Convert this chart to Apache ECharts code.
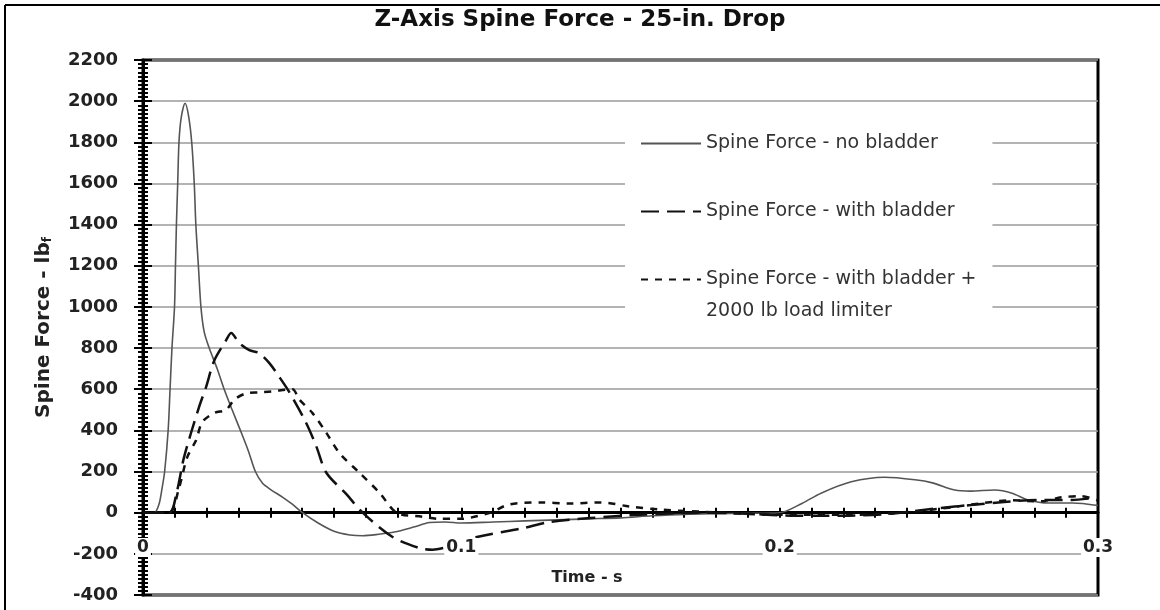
<!DOCTYPE html>
<html lang="en">
<head>
<meta charset="UTF-8">
<title>Z-Axis Spine Force - 25-in. Drop</title>
<script src="https://cdn.jsdelivr.net/npm/echarts@6/dist/echarts.min.js"></script>
<style>
    html, body { margin: 0; padding: 0; background: #fff; }
    #main { width: 1160px; height: 610px; }
</style>
</head>
<body>
<div id="main"></div>
<script type="text/javascript">
    // values (time in s, force in lbf)
    var tNoBladder = [0, 0.0035, 0.005, 0.006, 0.0068, 0.0079, 0.0085, 0.0091, 0.0099, 0.0102, 0.0105,
        0.0109, 0.0113, 0.012, 0.0132, 0.0143, 0.0153, 0.0161, 0.0166, 0.0174, 0.0182, 0.0192, 0.0208,
        0.0233, 0.0255, 0.028, 0.0306, 0.0331, 0.0353, 0.0375, 0.0403, 0.0438, 0.047, 0.0501, 0.055,
        0.060, 0.065, 0.069, 0.074, 0.079, 0.085, 0.090, 0.095, 0.100, 0.110, 0.120, 0.130, 0.140,
        0.150, 0.160, 0.170, 0.180, 0.190, 0.200, 0.207, 0.213, 0.2225, 0.233, 0.2425, 0.248, 0.255,
        0.260, 0.2675, 0.273, 0.278, 0.2845, 0.292, 0.300];
    var fNoBladder = [0, 0, 40, 120, 200, 400, 600, 800, 1000, 1200, 1400,
        1600, 1800, 1920, 1990, 1930, 1800, 1600, 1400, 1200, 1000, 880, 800,
        700, 600, 500, 400, 300, 200, 144, 110, 76, 40, 0, -50,
        -90, -108, -112, -105, -94, -70, -48, -45, -50, -45, -40, -35, -30,
        -25, -15, -8, -5, -3, 0, 45, 95, 150, 172, 160, 145, 110,
        105, 110, 95, 62, 47, 47, 35];

    var tBladder = [0, 0.0082, 0.0106, 0.0129, 0.0176, 0.0198, 0.0224, 0.0261, 0.0277, 0.0302, 0.0334,
        0.0365, 0.0397, 0.0428, 0.046, 0.0513, 0.0545, 0.0576, 0.0639, 0.069, 0.0784, 0.0869, 0.091,
        0.0948, 0.0995, 0.1049, 0.1194, 0.1279, 0.1405, 0.156, 0.175, 0.19, 0.205, 0.22, 0.235,
        0.25, 0.26, 0.2705, 0.281, 0.2917, 0.298];
    var fBladder = [0, 0, 100, 270, 513, 610, 740, 838, 873, 825, 790,
        775, 727, 660, 585, 435, 320, 194, 90, 0, -118, -172, -180,
        -170, -150, -118, -75, -45, -26, -10, 0, -5, -15, -15, -5,
        22, 37, 52, 62, 62, 70];

    var tLimiter = [0, 0.0082, 0.0113, 0.0139, 0.0167, 0.0186, 0.0224, 0.0261, 0.0287, 0.0324, 0.0365,
        0.0406, 0.045, 0.047, 0.0491, 0.0532, 0.0576, 0.0617, 0.068, 0.0743, 0.0797, 0.0879, 0.093,
        0.0995, 0.109, 0.115, 0.1247, 0.134, 0.1436, 0.153, 0.1625, 0.175, 0.200, 0.222, 0.238,
        0.2507, 0.263, 0.2728, 0.282, 0.2885, 0.2948, 0.2998];
    var fLimiter = [0, 0, 120, 270, 353, 440, 485, 500, 550, 580, 585,
        590, 598, 600, 550, 485, 388, 290, 194, 97, 0, -20, -30,
        -30, 0, 40, 50, 45, 50, 30, 15, 5, -10, -10, 0,
        20, 45, 60, 55, 75, 80, 60];

    var seriesNames = ['Spine Force - no bladder', 'Spine Force - with bladder', 'Spine Force - with bladder +'];
    var yTicks = { min: -400, max: 2200, step: 200 };
    var xTicks = { min: 0, max: 0.3, step: 0.1 };

    function zip(ts, fs) {
        var res = [];
        for (var i = 0; i < ts.length; i++) {
            res.push([ts[i], fs[i]]);
        }
        return res;
    }

    var FONT = 'DejaVu Sans';
    var TICK = { color: '#000', width: 2 };
    var myChart = echarts.init(document.getElementById('main'));

    var option = {
        backgroundColor: '#fff',
        animation: false,
        title: {
            text: 'Z-Axis Spine Force - 25-in. Drop',
            left: 'center',
            top: 4,
            textStyle: { fontFamily: FONT, fontSize: 23, fontWeight: 'bold', color: '#111' }
        },
        legend: {
            data: seriesNames,
            orient: 'vertical',
            left: 625,
            top: 122,
            itemWidth: 60,
            itemHeight: 14,
            itemGap: 49,
            padding: [12, 16, 34, 15],
            backgroundColor: '#fff',
            selectedMode: false,
            itemStyle: { opacity: 0 },
            textStyle: { fontFamily: FONT, fontSize: 19, color: '#333' }
        },
        grid: {
            left: 143,
            right: 62,
            top: 60,
            bottom: 15,
            outerBoundsMode: 'none',
            show: true,
            borderColor: '#000',
            borderWidth: 3
        },
        xAxis: [
            {
                // axis line through zero with ticks below it
                type: 'value',
                min: xTicks.min,
                max: xTicks.max,
                interval: xTicks.step,
                z: 3,
                axisLine: { onZero: true, onZeroAxisIndex: 0, lineStyle: { color: '#000', width: 3 } },
                axisTick: { show: true, length: 5, lineStyle: TICK },
                minorTick: { show: true, splitNumber: 10, length: 5, lineStyle: TICK },
                splitLine: { show: false },
                axisLabel: { show: false }
            },
            {
                // ticks above the zero line
                type: 'value',
                position: 'bottom',
                min: xTicks.min,
                max: xTicks.max,
                interval: xTicks.step,
                axisLine: { show: false, onZero: true, onZeroAxisIndex: 0 },
                axisTick: { show: true, inside: true, length: 5, lineStyle: TICK },
                minorTick: { show: true, splitNumber: 10, length: 5, lineStyle: TICK },
                splitLine: { show: false },
                axisLabel: { show: false }
            },
            {
                // tick labels sitting on the -200 line
                type: 'value',
                position: 'bottom',
                offset: -57,
                min: xTicks.min,
                max: xTicks.max,
                interval: xTicks.step,
                z: 4,
                axisLine: { show: false, onZero: false },
                axisTick: { show: false },
                splitLine: { show: false },
                axisLabel: {
                    margin: 0,
                    fontFamily: FONT,
                    fontSize: 17,
                    fontWeight: 'bold',
                    color: '#222',
                    backgroundColor: '#fff',
                    padding: [1, 2]
                }
            }
        ],
        yAxis: [
            {
                type: 'value',
                position: 'left',
                min: yTicks.min,
                max: yTicks.max,
                interval: yTicks.step,
                name: '{a|Spine Force - lb}{b|f}',
                nameLocation: 'middle',
                nameGap: 89,
                nameRotate: 90,
                nameTextStyle: {
                    rich: {
                        a: { fontFamily: FONT, fontSize: 20, fontWeight: 'bold', color: '#222' },
                        b: { fontFamily: FONT, fontSize: 12, fontWeight: 'bold', color: '#222', verticalAlign: 'bottom', padding: [9, 0, 0, 0] }
                    }
                },
                axisLine: { show: true, lineStyle: { color: '#000', width: 3 } },
                axisTick: { show: true, length: 9, lineStyle: TICK },
                minorTick: { show: true, splitNumber: 10, length: 5, lineStyle: TICK },
                splitLine: { show: true, lineStyle: { color: '#9a9a9a', width: 1.5 } },
                axisLabel: {
                    margin: 25,
                    formatter: function (v) { return String(v); },
                    fontFamily: FONT,
                    fontSize: 18,
                    fontWeight: 'bold',
                    color: '#222'
                }
            },
            {
                type: 'value',
                position: 'left',
                min: yTicks.min,
                max: yTicks.max,
                interval: yTicks.step,
                axisLine: { show: false },
                axisTick: { show: true, inside: true, length: 9, lineStyle: TICK },
                minorTick: { show: true, splitNumber: 10, length: 5, lineStyle: TICK },
                splitLine: { show: false },
                axisLabel: { show: false }
            }
        ],
        graphic: [
            { type: 'line', shape: { x1: 5, y1: 5, x2: 1160, y2: 5 }, style: { stroke: '#000', lineWidth: 2 }, z: 100 },
            { type: 'line', shape: { x1: 5, y1: 5, x2: 5, y2: 610 }, style: { stroke: '#000', lineWidth: 2 }, z: 100 },
            {
                type: 'text', x: 587, y: 578, z: 100,
                style: { text: 'Time - s', font: 'bold 16px "DejaVu Sans"', fill: '#222', align: 'center', verticalAlign: 'middle' }
            },
            {
                type: 'text', x: 706, y: 311, z: 100,
                style: { text: '2000 lb load limiter', font: '19px "DejaVu Sans"', fill: '#333', verticalAlign: 'middle' }
            }
        ],
        series: [
            {
                name: seriesNames[0],
                type: 'line',
                xAxisIndex: 0,
                yAxisIndex: 0,
                data: zip(tNoBladder, fNoBladder),
                showSymbol: false,
                symbol: 'none',
                smooth: 0.3,
                lineStyle: { color: '#555', width: 1.6, type: 'solid' },
                itemStyle: { color: '#555' }
            },
            {
                name: seriesNames[1],
                type: 'line',
                xAxisIndex: 0,
                yAxisIndex: 0,
                data: zip(tBladder, fBladder),
                showSymbol: false,
                symbol: 'none',
                smooth: 0.3,
                lineStyle: { color: '#111', width: 2.5, type: [18, 8] },
                itemStyle: { color: '#111' }
            },
            {
                name: seriesNames[2],
                type: 'line',
                xAxisIndex: 0,
                yAxisIndex: 0,
                data: zip(tLimiter, fLimiter),
                showSymbol: false,
                symbol: 'none',
                smooth: 0.3,
                lineStyle: { color: '#111', width: 2.5, type: [7, 7] },
                itemStyle: { color: '#111' }
            }
        ]
    };

    myChart.setOption(option);
</script>
</body>
</html>
